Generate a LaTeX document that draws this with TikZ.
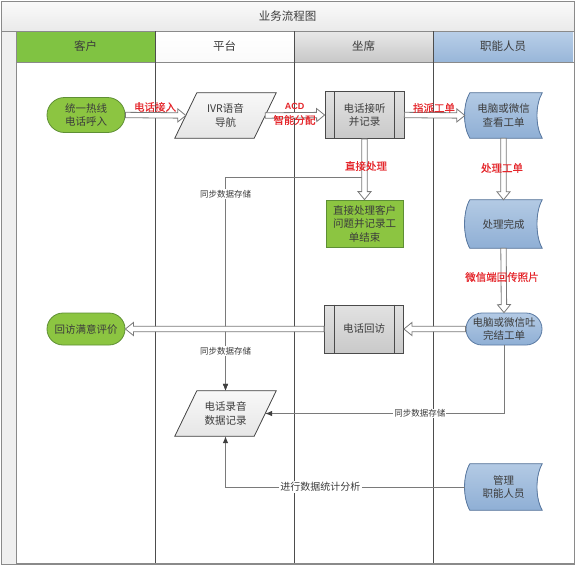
\documentclass[tikz,border=0pt]{standalone}
\usepackage{fontspec}
\setmainfont{Noto Sans CJK SC}
\newfontfamily\redfont[FakeBold=0.5]{Noto Sans CJK SC}
\newfontfamily\latinbold{Liberation Sans}
\usetikzlibrary{shapes.misc,calc,arrows.meta}
\pgfdeclarelayer{lanes}\pgfdeclarelayer{shapes}
\pgfsetlayers{lanes,shapes,main}
\definecolor{titletop}{HTML}{FAFAFA}
\definecolor{titlebot}{HTML}{EAEAEA}
\definecolor{stripbg}{HTML}{EFEFEF}
\definecolor{hgreen}{HTML}{80C342}
\definecolor{hgraytop}{HTML}{E8E8E8}
\definecolor{hgraybot}{HTML}{C8C8C8}
\definecolor{hbluetop}{HTML}{B9CFE8}
\definecolor{hbluebot}{HTML}{98B6D9}
\definecolor{framec}{HTML}{8A8A8A}
\definecolor{lanec}{HTML}{4D4D4D}
\definecolor{gfill}{HTML}{8CC541}
\definecolor{gline}{HTML}{5E8F34}
\definecolor{bnodetop}{HTML}{B3CAE4}
\definecolor{bnodebot}{HTML}{8FAFD5}
\definecolor{bline}{HTML}{5A7AA3}
\definecolor{ptop}{HTML}{E2E2E2}
\definecolor{pbot}{HTML}{C9C9C9}
\definecolor{pline}{HTML}{4A4A4A}
\definecolor{paratop}{HTML}{F8F8F8}
\definecolor{parabot}{HTML}{E6E6E6}
\definecolor{txt}{HTML}{3C3C3C}
\definecolor{redlbl}{HTML}{E5262B}
\definecolor{conn}{HTML}{7A7A7A}
\definecolor{tipc}{HTML}{404040}

\tikzset{
  every node/.style={font=\fontsize{10.5}{13.5}\selectfont, text=txt, align=center, inner sep=0pt},
  headtxt/.style={font=\fontsize{11.5}{13}\selectfont, text=txt},
  stadium/.style={rounded rectangle, minimum width=78pt, minimum height=33pt, line width=0.8pt},
  gstadium/.style={stadium, draw=gline, fill=gfill},
  bstadium/.style={stadium, draw=bline, top color=bnodetop, bottom color=bnodebot},
  procbox/.style={rectangle, draw=pline, top color=ptop, bottom color=pbot, minimum width=79pt, minimum height=47pt, line width=0.8pt},
  greenbox/.style={rectangle, draw=gline, fill=gfill, minimum width=77pt, minimum height=47pt, line width=0.8pt},
  shapebox/.style={rectangle, minimum width=77pt, minimum height=46pt},
  paraline/.style={draw=pline, top color=paratop, bottom color=parabot, line width=0.8pt},
  storeline/.style={draw=bline, top color=bnodetop, bottom color=bnodebot, line width=0.8pt},
  harrowsty/.style={draw=conn, fill=white, line width=0.8pt, line join=miter},
  thinln/.style={draw=conn, line width=0.8pt, -{Latex[length=7pt,width=5.5pt,color=tipc]}},
  redlabel/.style={font=\redfont\fontsize{10.5}{12}\selectfont, text=redlbl},
  graylabel/.style={font=\fontsize{8.5}{10}\selectfont, text=txt, fill=white, inner sep=1pt},
  graylabelbig/.style={font=\fontsize{10}{11}\selectfont, text=txt, fill=white, inner sep=1.5pt},
}

\newcommand\harrow[2]{%
  \path (#1) coordinate (hA) (#2) coordinate (hB);
  \path ($(hB)!8pt!(hA)$) coordinate (hC);
  \filldraw[harrowsty] ($(hA)!2.7pt!90:(hB)$) -- ($(hC)!2.7pt!-90:(hA)$) -- ($(hC)!6.5pt!-90:(hA)$) -- (hB) -- ($(hC)!6.5pt!90:(hA)$) -- ($(hC)!2.7pt!90:(hA)$) -- ($(hA)!2.7pt!-90:(hB)$) -- cycle;}
\newcommand\paragram[1]{%
  \filldraw[paraline] ([xshift=11pt]#1.north west) -- ([xshift=11pt]#1.north east) -- ([xshift=-11pt]#1.south east) -- ([xshift=-11pt]#1.south west) -- cycle;}
\newcommand\stored[1]{%
  \filldraw[storeline] ([xshift=5pt]#1.north west) -- (#1.north east) .. controls ([xshift=-7pt,yshift=-12pt]#1.north east) and ([xshift=-7pt,yshift=12pt]#1.south east) .. (#1.south east) -- ([xshift=5pt]#1.south west) .. controls ([xshift=-2pt,yshift=12pt]#1.south west) and ([xshift=-2pt,yshift=-12pt]#1.north west) .. ([xshift=5pt]#1.north west) -- cycle;}
\newcommand\procbars[1]{%
  \draw[pline, line width=0.8pt] ([xshift=10pt]#1.north west) -- ([xshift=10pt]#1.south west);
  \draw[pline, line width=0.8pt] ([xshift=-10pt]#1.north east) -- ([xshift=-10pt]#1.south east);}

\begin{document}
\begin{tikzpicture}[x=1pt,y=-1pt]
\useasboundingbox (0,0) rectangle (575,566);

\begin{pgfonlayer}{lanes}
  \fill[white] (0,0) rectangle (575,566);
  \shade[top color=titletop, bottom color=titlebot] (1,1) rectangle (574,31);
  \fill[stripbg] (1,31) rectangle (16,564);
  \fill[hgreen] (16,31) rectangle (155,62);
  \shade[top color=white, bottom color=titletop] (155,31) rectangle (294,62);
  \shade[top color=hgraytop, bottom color=hgraybot] (294,31) rectangle (433,62);
  \shade[top color=hbluetop, bottom color=hbluebot] (433,31) rectangle (573,62);
  \draw[framec, line width=0.8pt] (1,31) -- (574,31);
  \draw[framec, line width=0.8pt] (16,62) -- (574,62);
  \draw[framec, line width=0.8pt] (16,31) -- (16,563) -- (574,563);
  \draw[lanec, line width=0.8pt] (155,31) -- (155,563);
  \draw[lanec, line width=0.8pt] (294,31) -- (294,563);
  \draw[lanec, line width=0.8pt] (433,31) -- (433,563);
  \draw[framec, line width=1pt] (1,1) rectangle (574,564);
\end{pgfonlayer}

% titles
\node[headtxt] (title) at (287.5,16) {业务流程图};
\node[headtxt] (h1) at (85.5,46.5) {客户};
\node[headtxt] (h2) at (224.5,46.5) {平台};
\node[headtxt] (h3) at (363.5,46.5) {坐席};
\node[headtxt] (h4) at (503,46.5) {职能人员};

% nodes
\node[gstadium, minimum height=35pt] (hot) at (86,115) {统一热线\\电话呼入};
\node[shapebox, minimum width=79pt, minimum height=45pt] (ivr) at (225.5,115.5) {IVR语音\\导航};
\node[procbox] (jt) at (364.5,115) {电话接听\\并记录};
\node[shapebox, minimum height=45pt] (view) at (503.5,115.5) {电脑或微信\\查看工单};
\node[greenbox] (direct) at (364.5,223.5) {直接处理客户\\问题并记录工\\单结束};
\node[shapebox, minimum height=48pt] (done) at (503.5,224) {处理完成};
\node[bstadium, minimum width=76pt, minimum height=32pt] (wanjie) at (504,329) {电脑或微信吐\\完结工单};
\node[procbox, minimum height=48pt] (huifang) at (364,329) {电话回访};
\node[gstadium, minimum height=32pt] (pingjia) at (86,329) {回访满意评价};
\node[shapebox, minimum width=79pt, minimum height=45pt] (luyin) at (225.5,413.5) {电话录音\\数据记录};
\node[shapebox] (guanli) at (503.5,487) {管理\\职能人员};

\procbars{jt}
\procbars{huifang}

\begin{pgfonlayer}{shapes}
  \paragram{ivr}
  \paragram{luyin}
  \stored{view}
  \stored{done}
  \stored{guanli}
\end{pgfonlayer}

% thin connectors
\coordinate (s1) at (364.5,177);
\draw[thinln] (jt.south) -- (s1) -| node[graylabel, pos=0.54] {同步数据存储} (luyin.north);
\draw[thinln] (huifang.west) -| node[graylabel, pos=0.68] {同步数据存储} (luyin.north);
\draw[thinln] (wanjie.south) |- node[graylabel, pos=0.676] {同步数据存储} (luyin.east);
\draw[thinln] (guanli.west) -| node[graylabelbig, pos=0.302] {进行数据统计分析} (luyin.south);

% hollow double arrows
\harrow{hot.east}{ivr.west}
\harrow{ivr.east}{jt.west}
\harrow{jt.east}{view.west}
\harrow{jt.south}{direct.north}
\harrow{view.south}{done.north}
\harrow{done.south}{wanjie.north}
\harrow{wanjie.west}{huifang.east}
\harrow{huifang.west}{pingjia.east}

% connector labels
\node[redlabel] (l1) at (155,107) {电话接入};
\node[font=\latinbold\bfseries\fontsize{9}{10}\selectfont, text=redlbl] (l2a) at (294.5,106.5) {ACD};
\node[redlabel] (l2b) at (294.5,120) {智能分配};
\node[redlabel] (l3) at (434,108) {指派工单};
\node[redlabel] (l4) at (366,166) {直接处理};
\node[redlabel] (l5) at (502,168) {处理工单};
\node[redlabel] (l6) at (502,277) {微信端回传照片};
\end{tikzpicture}
\end{document}
